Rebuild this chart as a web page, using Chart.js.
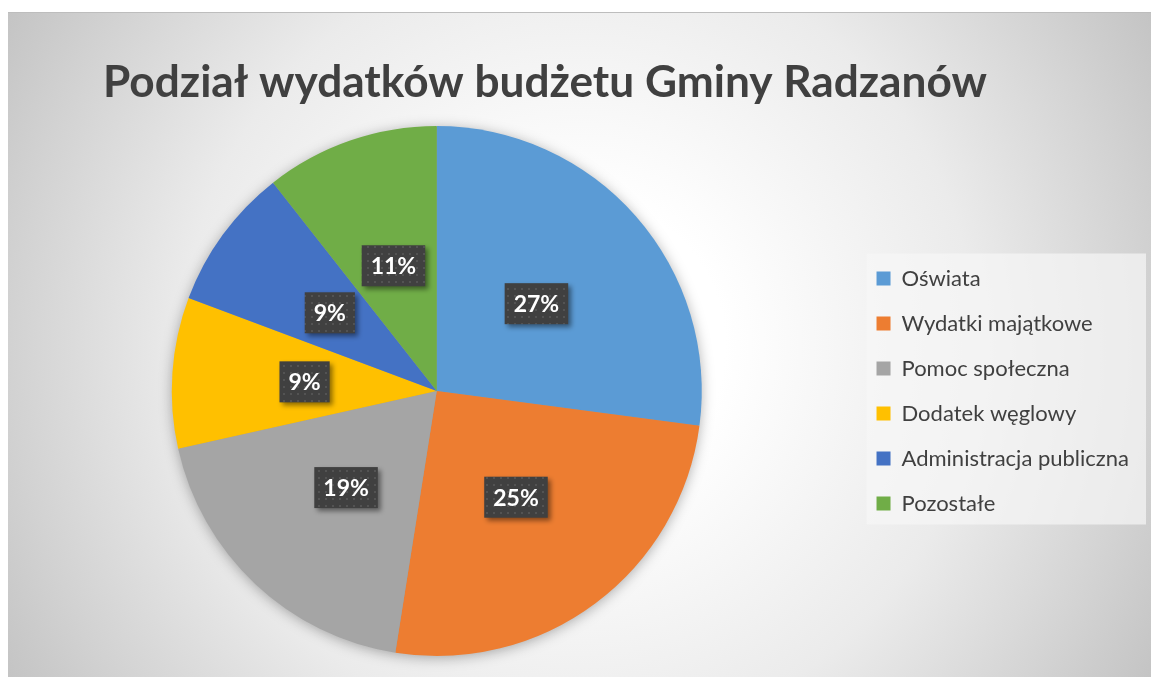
<!DOCTYPE html>
<html lang="pl">
<head>
<meta charset="utf-8">
<title>Podział wydatków budżetu Gminy Radzanów</title>
<script src="https://cdn.jsdelivr.net/npm/chart.js@4.4.0/dist/chart.umd.min.js"></script>
<style>
    html, body { margin: 0; padding: 0; background: #ffffff; }
    #wrap {
        position: absolute;
        left: 8px;
        top: 12px;
        width: 1143px;
        height: 664px;
        border-top: 1px solid #bdbdbd;
        background: radial-gradient(circle farthest-corner at 50% 50%,
            #ffffff 0%, #ffffff 22%, #ebebeb 60%, #d2d2d2 86%, #c4c4c4 100%);
    }
    #box { position: relative; width: 1143px; height: 664px; }
</style>
</head>
<body>
<div id="wrap">
    <div id="box"><canvas id="budgetChart"></canvas></div>
</div>
<script>
// Data (shares in %)
const categories = ['Oświata', 'Wydatki majątkowe', 'Pomoc społeczna', 'Dodatek węglowy', 'Administracja publiczna', 'Pozostałe'];
const shares = [27.1, 25.4, 19.0, 9.2, 8.7, 10.6];
const sliceColors = ['#5B9BD5', '#ED7D31', '#A5A5A5', '#FFC000', '#4472C4', '#70AD47'];
const chartTitle = 'Podział wydatków budżetu Gminy Radzanów';

const textColor = '#404040';

// Dark dotted fill used behind the percentage labels
function makeDotPattern(ctx) {
    const tile = document.createElement('canvas');
    tile.width = 7;
    tile.height = 7;
    const t = tile.getContext('2d');
    t.fillStyle = '#404040';
    t.fillRect(0, 0, 7, 7);
    t.fillStyle = '#535353';
    t.fillRect(2, 2, 2, 2);
    return ctx.createPattern(tile, 'repeat');
}

// Title drawn over the top of the canvas
const titlePlugin = {
    id: 'titleText',
    afterDraw(chart) {
        const ctx = chart.ctx;
        ctx.save();
        ctx.font = 'bold 100px Lato';
        const w = ctx.measureText(chartTitle).width;
        const size = Math.min(48, 100 * 885 / w);
        ctx.font = 'bold ' + size.toFixed(1) + 'px Lato';
        ctx.fillStyle = textColor;
        ctx.textAlign = 'center';
        ctx.textBaseline = 'alphabetic';
        ctx.fillText(chartTitle, 537, 84);
        ctx.restore();
    }
};

// Light panel behind the legend entries
const legendPanel = {
    id: 'legendPanel',
    beforeDraw(chart) {
        const lg = chart.legend;
        const hb = lg && lg.legendHitBoxes;
        if (!hb || !hb.length) return;
        const first = hb[0];
        const last = hb[hb.length - 1];
        const x0 = first.left - 10;
        const y0 = first.top - 14;
        const x1 = chart.width - 5;
        const y1 = last.top + last.height + 10;
        const ctx = chart.ctx;
        ctx.save();
        ctx.fillStyle = 'rgba(246, 246, 246, 0.7)';
        ctx.fillRect(x0, y0, x1 - x0, y1 - y0);
        ctx.restore();
    }
};

// Soft shadow under the whole pie
const pieShadow = {
    id: 'pieShadow',
    beforeDatasetsDraw(chart) {
        const arc = chart.getDatasetMeta(0).data[0];
        if (!arc) return;
        const ctx = chart.ctx;
        ctx.save();
        ctx.shadowColor = 'rgba(0, 0, 0, 0.35)';
        ctx.shadowBlur = 14;
        ctx.shadowOffsetX = 0;
        ctx.shadowOffsetY = 2;
        ctx.beginPath();
        ctx.arc(arc.x, arc.y, arc.outerRadius - 1, 0, Math.PI * 2);
        ctx.fillStyle = '#9a9a9a';
        ctx.fill();
        ctx.restore();
    }
};

// Percentage labels in dark boxes
const percentLabels = {
    id: 'percentLabels',
    afterDatasetsDraw(chart) {
        const ctx = chart.ctx;
        const values = chart.data.datasets[0].data;
        const total = values.reduce((a, b) => a + b, 0);
        const pattern = makeDotPattern(ctx);
        chart.getDatasetMeta(0).data.forEach((arc, i) => {
            const p = arc.getCenterPoint();
            const text = Math.round(values[i] / total * 100) + '%';
            ctx.save();
            ctx.font = 'bold 23px Lato';
            const w = ctx.measureText(text).width + 18;
            const h = 41;
            ctx.shadowColor = 'rgba(0, 0, 0, 0.45)';
            ctx.shadowBlur = 5;
            ctx.shadowOffsetX = 3;
            ctx.shadowOffsetY = 3;
            ctx.fillStyle = pattern;
            ctx.fillRect(p.x - w / 2, p.y - h / 2, w, h);
            ctx.shadowColor = 'transparent';
            ctx.fillStyle = '#ffffff';
            ctx.textAlign = 'center';
            ctx.textBaseline = 'middle';
            ctx.fillText(text, p.x, p.y + 1);
            ctx.restore();
        });
    }
};

document.addEventListener('DOMContentLoaded', function() {
    const ctx = document.getElementById('budgetChart');
    new Chart(ctx, {
        type: 'pie',
        data: {
            labels: categories,
            datasets: [{
                data: shares,
                backgroundColor: sliceColors,
                borderWidth: 0,
                hoverOffset: 0
            }]
        },
        options: {
            responsive: true,
            maintainAspectRatio: false,
            animation: false,
            layout: {
                padding: { top: 113, bottom: 21, left: 12, right: 12 }
            },
            plugins: {
                title: { display: false },
                tooltip: { enabled: false },
                legend: {
                    position: 'right',
                    align: 'center',
                    labels: {
                        boxWidth: 14,
                        boxHeight: 14,
                        padding: 23,
                        color: textColor,
                        font: { family: 'Lato', size: 22 }
                    }
                }
            }
        },
        plugins: [pieShadow, legendPanel, percentLabels, titlePlugin]
    });
});
</script>
</body>
</html>
